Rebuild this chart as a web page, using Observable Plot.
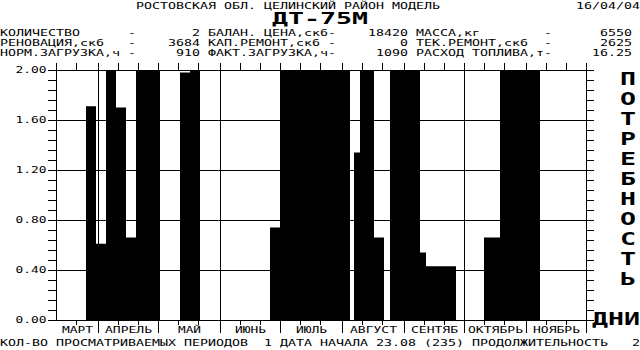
<!DOCTYPE html>
<html><head><meta charset="utf-8">
<script src="https://cdn.jsdelivr.net/npm/d3@7"></script>
<script src="https://cdn.jsdelivr.net/npm/@observablehq/plot@0.6"></script>
<style>
body{margin:0;background:#fff;}
#wrap{position:relative;width:640px;height:350px;overflow:hidden;background:#fff;color:#000;font-family:"DejaVu Sans Mono",monospace;}
.row{position:absolute;white-space:pre;transform-origin:0 0;color:#000;}
#chart{position:absolute;left:0;top:60px;}
</style></head><body><div id="wrap"><div id="chart"></div></div>
<script>
// ---------- data ----------
const region = "РОСТОВСКАЯ ОБЛ. ЦЕЛИНСКИЙ РАЙОН МОДЕЛЬ";
const printDate = "16/04/04";
const model = "ДТ-75М";
const paramNames = [
  ["КОЛИЧЕСТВО", "БАЛАН. ЦЕНА,ск6", "МАССА,кг"],
  ["РЕНОВАЦИЯ,ск6", "КАП.РЕМОНТ,ск6", "ТЕК.РЕМОНТ,ск6"],
  ["НОРМ.ЗАГРУЗКА,ч", "ФАКТ.ЗАГРУЗКА,ч", "РАСХОД ТОПЛИВА,т"]
];
const paramValues = [
  ["2", "18420", "6550"],
  ["3684", "0", "2625"],
  ["910", "1090", "16.25"]
];
const footerText = "КОЛ-ВО ПРОСМАТРИВАЕМЫХ ПЕРИОДОВ  1 ДАТА НАЧАЛА 23.08 (235) ПРОДОЛЖИТЕЛЬНОСТЬ   2";
const yTitle = "ПОТРЕБНОСТЬ";
const xTitle = "ДНИ";
const monthNames = ["МАРТ", "АПРЕЛЬ", "МАЙ", "ИЮНЬ", "ИЮЛЬ", "АВГУСТ", "СЕНТЯБ", "ОКТЯБРЬ", "НОЯБРЬ"];
const axisStart = "2004-03-11";
const axisEnd = "2004-12-01";
const periodStart = ["2004-03-26","2004-03-31","2004-04-05","2004-04-10","2004-04-15","2004-04-20","2004-05-12","2004-05-17","2004-06-26","2004-07-01","2004-08-07","2004-08-10","2004-08-17","2004-08-25","2004-09-09","2004-09-12","2004-10-11","2004-10-19"];
const periodEnd   = ["2004-03-31","2004-04-05","2004-04-10","2004-04-15","2004-04-20","2004-05-02","2004-05-17","2004-05-22","2004-07-01","2004-08-05","2004-08-10","2004-08-17","2004-08-22","2004-09-09","2004-09-12","2004-09-27","2004-10-19","2004-11-08"];
const need        = [1.71, 0.61, 2.00, 1.70, 0.66, 2.00, 1.98, 2.00, 0.74, 2.00, 1.34, 2.00, 0.66, 2.00, 0.54, 0.43, 0.66, 2.00];
const yMax = 2.0;
const yMinorStep = 0.08;
const yMajorStep = 0.40;

// ---------- helpers ----------
const wrap = document.getElementById("wrap");
const ADV = 0.60205, ASC = 0.928, DESC = 0.236;
function textRow(str, {left = 0, baseline, size = 9, cell = 8, bold = false, lh = size}) {
  const d = document.createElement("div");
  d.className = "row";
  d.textContent = str;
  d.style.fontSize = size + "px";
  d.style.lineHeight = lh + "px";
  d.style.fontWeight = bold ? "bold" : "normal";
  d.style.left = left + "px";
  const off = (lh - (ASC + DESC) * size) / 2 + ASC * size;
  d.style.top = (baseline - off) + "px";
  d.style.transform = `scaleX(${cell / (ADV * size)})`;
  wrap.appendChild(d);
}
function place(cols, items) {
  const a = Array(cols).fill(" ");
  for (const [c, s] of items) for (let i = 0; i < s.length; i++) a[c + i] = s[i];
  return a.join("");
}

// ---------- chart ----------
const parse = s => new Date(s + "T00:00:00Z");
const x0 = parse(axisStart), x1 = parse(axisEnd);
const bars = need.map((v, i) => ({start: parse(periodStart[i]), end: parse(periodEnd[i]), v}));
const monthStarts = d3.utcMonth.range(x0, x1);
const xGrid = [x0, ...monthStarts, x1];
const monthBounds = [...monthStarts, x1];
const tenDay = d3.utcDay.range(x0, d3.utcDay.offset(x1, 1)).filter(d => [1, 11, 21].includes(d.getUTCDate()));
const tenDayMinor = tenDay.filter(d => d.getUTCDate() !== 1 && +d !== +x0);
const nMinor = Math.round(yMax / yMinorStep);
const yMinor = d3.range(0, nMinor + 1).map(i => +(i * yMinorStep).toFixed(4));
const yMajor = d3.range(0, Math.round(yMax / yMajorStep) + 1).map(i => +(i * yMajorStep).toFixed(4));
const firstMonth = d3.utcMonth.floor(x0);
const monthLabels = monthNames.map((name, i) => {
  const s = d3.utcMonth.offset(firstMonth, i);
  const a = s < x0 ? x0 : s;
  const e = d3.utcMonth.offset(s, 1);
  return {name, mid: new Date((+a + +e) / 2)};
});
const nameByTime = new Map(monthLabels.map(d => [+d.mid, d.name]));

const chart = Plot.plot({
  width: 640, height: 276,
  marginTop: 10, marginBottom: 16, marginLeft: 56, marginRight: 54,
  x: {type: "utc", domain: [x0, x1]},
  y: {domain: [0, yMax]},
  style: {fontFamily: "DejaVu Sans Mono", fontSize: "9px", color: "black", background: "white", overflow: "visible"},
  marks: [
    Plot.rect(bars, {x1: "start", x2: "end", y1: 0, y2: "v", fill: "black", inset: 0}),
    Plot.ruleY(yMajor, {stroke: "black"}),
    Plot.ruleX(xGrid, {stroke: "black"}),
    Plot.axisY({anchor: "left", ticks: yMinor, tickSize: 8, tickFormat: () => "", label: null}),
    Plot.axisY({anchor: "left", ticks: yMajor, tickSize: 8, tickPadding: 2, tickFormat: d => d.toFixed(2), label: null}),
    Plot.axisY({anchor: "right", ticks: yMinor, tickSize: 7, tickFormat: () => "", label: null}),
    Plot.axisX({anchor: "top", ticks: tenDay, tickSize: 8, tickFormat: () => "", label: null}),
    Plot.axisX({anchor: "bottom", ticks: tenDayMinor, tickSize: 5, tickFormat: () => "", label: null}),
    Plot.axisX({anchor: "bottom", ticks: monthBounds, tickSize: 13, tickFormat: () => "", label: null}),
    Plot.axisX({anchor: "bottom", ticks: monthLabels.map(d => d.mid), tickSize: 0, tickPadding: 6, tickFormat: d => nameByTime.get(+d) || "", label: null})
  ]
});
chart.querySelectorAll("text").forEach(t => {
  const s = t.textContent;
  if (s && s.trim()) {
    t.setAttribute("textLength", s.length * 8 - 1);
    t.setAttribute("lengthAdjust", "spacingAndGlyphs");
  }
});
document.getElementById("chart").appendChild(chart);

// ---------- header ----------
textRow(place(80, [[17, region], [72, printDate]]), {baseline: 10});
textRow(model, {left: 320 - model.length * 8, baseline: 25, size: 15, cell: 16, bold: true, lh: 13});
const nameCol = [0, 26, 52], dashCol = [16, 41, 68], valEnd = [24, 50, 78];
paramNames.forEach((names, r) => {
  const items = [];
  names.forEach((n, g) => {
    const v = paramValues[r][g];
    items.push([nameCol[g], n], [dashCol[g], "-"], [valEnd[g] - v.length + 1, v]);
  });
  textRow(place(80, items), {baseline: 37 + 10 * r});
});
// ---------- footer & side titles ----------
textRow(footerText, {baseline: 347});
[...yTitle].forEach((ch, i) => textRow(ch, {left: 620, baseline: 85 + 20 * i, size: 18, cell: 16, bold: true, lh: 15}));
textRow(xTitle, {left: 592, baseline: 325, size: 18, cell: 16, bold: true, lh: 15});
</script></body></html>
